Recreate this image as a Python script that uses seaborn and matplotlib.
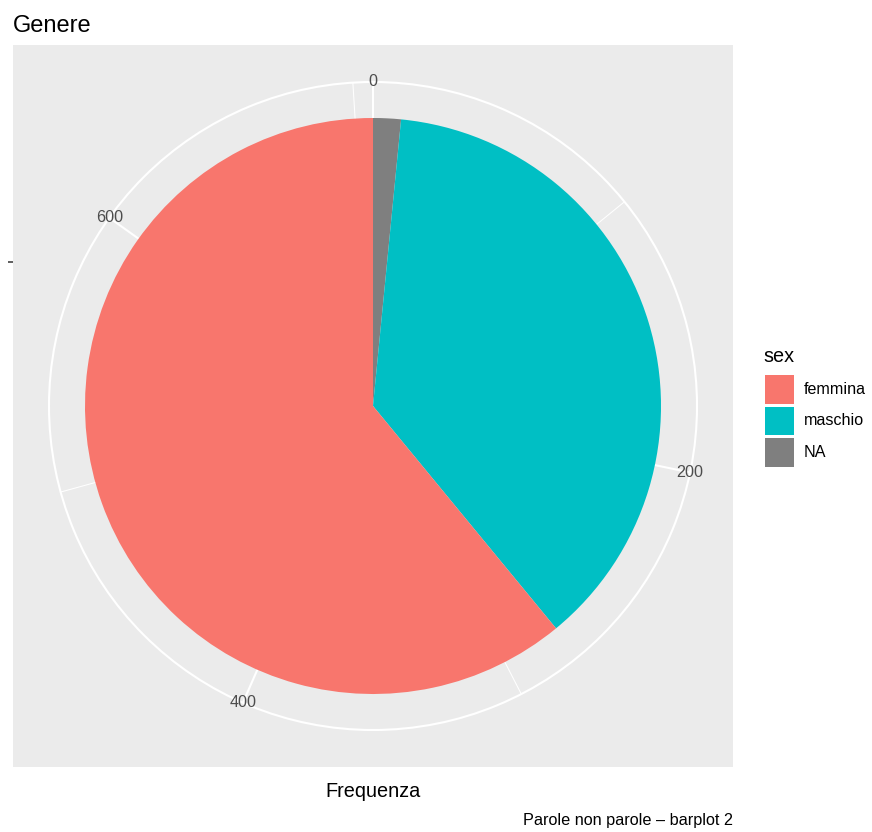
import numpy as np
import matplotlib
matplotlib.use("Agg")
import matplotlib.pyplot as plt
import matplotlib.patches as mpatches
import seaborn as sns

# ---- data ----
categories = ["femmina", "maschio", "NA"]
counts = [431, 265, 11]
fill_colors = ["#F8766D", "#00BFC4", "#7F7F7F"]
major_breaks = [0, 200, 400, 600]
minor_breaks = [100, 300, 500, 700]
title_text = "Genere"
xlabel_text = "Frequenza"
legend_title = "sex"
caption_text = "Parole non parole \u2013 barplot 2"

sns.set_theme(style="white")
plt.rcParams["font.family"] = ["Liberation Sans", "DejaVu Sans"]
palette = sns.color_palette(fill_colors)

W, H = 872, 832
fig = plt.figure(figsize=(W / 100, H / 100), dpi=100)

# panel (pixel coordinates, top-left origin)
px0, py0, pw, ph = 13, 45, 720, 722
ax_bg = fig.add_axes([px0 / W, 1 - (py0 + ph) / H, pw / W, ph / H])
ax_bg.set_facecolor("#EBEBEB")
for s in ax_bg.spines.values():
    s.set_visible(False)
ax_bg.set_xlim(0, 1)
ax_bg.set_ylim(0, 1)
ax_bg.set_xticks([])
ax_bg.set_yticks([0.5 + 0.2 * pw / ph])
ax_bg.set_yticklabels([""])
ax_bg.tick_params(axis="y", left=True, length=3.6, width=1.1, color="#333333")

# polar axes
cx, cy = px0 + pw / 2, py0 + ph / 2
R = 0.45 * min(pw, ph)
ax = fig.add_axes([(cx - R) / W, 1 - (cy + R) / H, 2 * R / W, 2 * R / H],
                  projection="polar")
ax.set_facecolor("none")
ax.set_theta_zero_location("N")
ax.set_theta_direction(-1)
ax.set_rlim(0, 0.45)
ax.set_yticks([])
ax.spines["polar"].set_color("white")
ax.spines["polar"].set_linewidth(1.5)

total = float(np.sum(counts))
to_theta = lambda v: 2 * np.pi * np.asarray(v, dtype=float) / total

ax.set_xticks(to_theta(major_breaks))
ax.set_xticklabels([])
ax.set_xticks(to_theta(minor_breaks), minor=True)
ax.tick_params(axis="x", which="both", length=0)
ax.xaxis.grid(True, which="major", color="white", linewidth=1.5)
ax.xaxis.grid(True, which="minor", color="white", linewidth=0.75)
ax.set_axisbelow(True)

# stacked bars (last level at the bottom of the stack, as ggplot does)
rev_counts = counts[::-1]
rev_cols = list(palette)[::-1]
starts = np.concatenate([[0], np.cumsum(rev_counts)[:-1]])
ax.bar(to_theta(starts), 0.4, width=to_theta(rev_counts), bottom=0,
       align="edge", color=rev_cols, linewidth=0, zorder=2)

for b in major_breaks:
    ax.text(to_theta(b), 0.45, str(b), ha="center", va="center",
            color="#4D4D4D", fontsize=11.6, clip_on=False, zorder=3)

# titles
fig.text(13 / W, 1 - 32 / H, title_text, ha="left", va="baseline",
         fontsize=17, color="black")
fig.text(cx / W, 1 - 797 / H, xlabel_text, ha="center", va="baseline",
         fontsize=14.3, color="black")
fig.text(733 / W, 1 - 825 / H, caption_text, ha="right", va="baseline",
         fontsize=11.7, color="black")

# legend
fig.text(763 / W, 1 - 362 / H, legend_title, ha="left", va="baseline",
         fontsize=14.3, color="black")
key_x, key_top, key_w, key_h, key_step = 765, 375, 29, 28.5, 31.5
for i, (lab, col) in enumerate(zip(categories, palette)):
    top = key_top + i * key_step
    fig.patches.append(mpatches.Rectangle(
        (key_x / W, 1 - (top + key_h) / H), key_w / W, key_h / H,
        transform=fig.transFigure, facecolor=col, edgecolor="none"))
    fig.text(804 / W, 1 - (top + key_h / 2) / H, lab, ha="left",
             va="center", fontsize=11.6, color="black")

fig.savefig("out.png", dpi=100)
